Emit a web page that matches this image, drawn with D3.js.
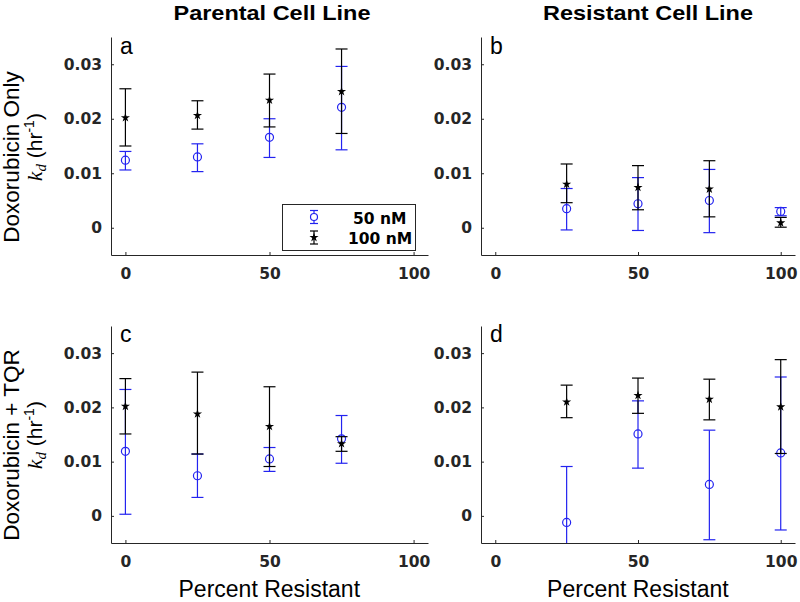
<!DOCTYPE html>
<html><head><meta charset="utf-8">
<script src="https://cdn.jsdelivr.net/npm/d3@7"></script>
<style>body{margin:0;background:#fff}svg{display:block}</style>
</head><body><svg id="chart" width="800" height="602"></svg>
<script>
// ---- data ----
const xTicks = [0, 50, 100];
const xTickLabels = ["0", "50", "100"];
const yTicks = [0, 0.01, 0.02, 0.03];
const yTickLabels = ["0", "0.01", "0.02", "0.03"];
const colTitles = ["Parental Cell Line", "Resistant Cell Line"];
const rowLabels = ["Doxorubicin Only", "Doxorubicin + TQR"];
const panelLetters = ["a", "b", "c", "d"];
const seriesNames = ["50 nM", "100 nM"];
const xLabel = "Percent Resistant";

// panel a (parental, doxorubicin only)
const xA = [0, 25, 50, 75];
const a50 = [0.0124, 0.0130, 0.0166, 0.0221];
const a50lo = [0.0106, 0.0103, 0.0129, 0.0143];
const a50hi = [0.0140, 0.0154, 0.0200, 0.0296];
const a100 = [0.0202, 0.0206, 0.0234, 0.0250];
const a100lo = [0.0150, 0.0181, 0.0185, 0.0173];
const a100hi = [0.0255, 0.0233, 0.0282, 0.0328];
// panel b (resistant, doxorubicin only)
const xB = [25, 50, 75, 100];
const b50 = [0.0035, 0.0044, 0.0050, 0.0030];
const b50lo = [-0.0004, -0.0005, -0.0009, 0.0022];
const b50hi = [0.0072, 0.0092, 0.0107, 0.0037];
const b100 = [0.0080, 0.0074, 0.0071, 0.0009];
const b100lo = [0.0046, 0.0033, 0.0020, 0.0001];
const b100hi = [0.0117, 0.0114, 0.0123, 0.0019];
// panel c (parental, doxorubicin + TQR)
const xC = [0, 25, 50, 75];
const c50 = [0.0119, 0.0074, 0.0105, 0.0142];
const c50lo = [0.0003, 0.0034, 0.0082, 0.0097];
const c50hi = [0.0233, 0.0114, 0.0126, 0.0185];
const c100 = [0.0202, 0.0188, 0.0165, 0.0133];
const c100lo = [0.0151, 0.0114, 0.0091, 0.0119];
const c100hi = [0.0253, 0.0265, 0.0238, 0.0146];
// panel d (resistant, doxorubicin + TQR)
const xD = [25, 50, 75, 100];
const d50 = [-0.0012, 0.0151, 0.0058, 0.0116];
const d50lo = [-0.0115, 0.0088, -0.0044, -0.0026];
const d50hi = [0.0091, 0.0212, 0.0158, 0.0256];
const d100 = [0.0210, 0.0222, 0.0215, 0.0201];
const d100lo = [0.0181, 0.0189, 0.0177, 0.0115];
const d100hi = [0.0241, 0.0254, 0.0252, 0.0288];

// ---- layout ----
const AX = "#262626", BLUE = "#2323f0", BLACK = "#000";
const svg = d3.select("#chart");
const tickFont = "DejaVu Sans, Verdana, sans-serif";
const labelFont = "Liberation Sans, Arial, sans-serif";

const panels = [
  {x: xA, m50: a50, l50: a50lo, h50: a50hi, m100: a100, l100: a100lo, h100: a100hi, xr: [111, 428], yr: [255, 37], letter: 0},
  {x: xB, m50: b50, l50: b50lo, h50: b50hi, m100: b100, l100: b100lo, h100: b100hi, xr: [481, 795], yr: [255, 37], letter: 1},
  {x: xC, m50: c50, l50: c50lo, h50: c50hi, m100: c100, l100: c100lo, h100: c100hi, xr: [111, 428], yr: [543, 326], letter: 2},
  {x: xD, m50: d50, l50: d50lo, h50: d50hi, m100: d100, l100: d100lo, h100: d100hi, xr: [481, 795], yr: [543, 326], letter: 3}
];

const starPath = d3.symbol().type(d3.symbolStar).size(26)();

panels.forEach((p, pi) => {
  const x = d3.scaleLinear().domain([-5, 105]).range(p.xr);
  const y = d3.scaleLinear().domain([-0.005, 0.035]).range(p.yr);
  const g = svg.append("g");
  const clipId = "clip" + pi;
  svg.append("clipPath").attr("id", clipId).append("rect")
    .attr("x", p.xr[0]).attr("y", p.yr[1]).attr("width", p.xr[1] - p.xr[0]).attr("height", p.yr[0] - p.yr[1]);

  // axes
  const yAxis = d3.axisLeft(y).tickValues(yTicks).tickFormat((d, i) => yTickLabels[i])
    .tickSizeInner(-3).tickSizeOuter(0).tickPadding(9);
  const xAxis = d3.axisBottom(x).tickValues(xTicks).tickFormat((d, i) => xTickLabels[i])
    .tickSizeInner(-3).tickSizeOuter(0).tickPadding(12);
  const ya = g.append("g").attr("transform", `translate(${p.xr[0]},0)`).call(yAxis);
  const xa = g.append("g").attr("transform", `translate(0,${p.yr[0]})`).call(xAxis);
  [ya, xa].forEach(a => {
    a.selectAll("path,line").attr("stroke", AX);
    a.selectAll("text").attr("fill", AX).style("font-family", tickFont)
      .style("font-weight", "bold").style("font-size", "15.5px");
  });
  xa.selectAll("text").attr("dy", "0.75em");

  const plot = g.append("g").attr("clip-path", `url(#${clipId})`);
  const series = [
    {m: p.m50, lo: p.l50, hi: p.h50, color: BLUE, marker: "o"},
    {m: p.m100, lo: p.l100, hi: p.h100, color: BLACK, marker: "*"}
  ];
  series.forEach(s => {
    const data = p.x.map((xv, i) => ({x: xv, m: s.m[i], lo: s.lo[i], hi: s.hi[i]}));
    const sg = plot.append("g").attr("stroke", s.color).attr("fill", "none").attr("stroke-width", 1.2);
    const e = sg.selectAll("g").data(data).join("g");
    e.append("line").attr("x1", d => x(d.x)).attr("x2", d => x(d.x))
      .attr("y1", d => y(d.lo)).attr("y2", d => y(d.hi));
    e.append("line").attr("x1", d => x(d.x) - 6).attr("x2", d => x(d.x) + 6)
      .attr("y1", d => y(d.lo)).attr("y2", d => y(d.lo));
    e.append("line").attr("x1", d => x(d.x) - 6).attr("x2", d => x(d.x) + 6)
      .attr("y1", d => y(d.hi)).attr("y2", d => y(d.hi));
    if (s.marker === "o") {
      e.append("circle").attr("cx", d => x(d.x)).attr("cy", d => y(d.m)).attr("r", 4)
        .attr("fill", "none");
    } else {
      e.append("path").attr("d", starPath).attr("transform", d => `translate(${x(d.x)},${y(d.m)})`)
        .attr("fill", s.color).attr("stroke", "none");
    }
  });

  // panel letter
  svg.append("text").attr("x", p.xr[0] + 9).attr("y", p.yr[1] + (pi < 2 ? 17 : 16))
    .text(panelLetters[p.letter]).style("font-family", labelFont).style("font-size", "23px").attr("fill", "#000");

  if (pi % 2 === 0) {
    const row = pi / 2;
    const cy = row === 0 ? 157 : 445;
    svg.append("text").attr("transform", `translate(19,${cy}) rotate(-90)`).attr("text-anchor", "middle")
      .style("font-family", labelFont).style("font-size", "22.5px").attr("fill", "#000").text(rowLabels[row]);
    const t = svg.append("text").attr("transform", `translate(42,${cy - 10}) rotate(-90)`).attr("text-anchor", "middle")
      .style("font-family", labelFont).style("font-size", "21px").attr("fill", "#000");
    t.append("tspan").style("font-family", "Liberation Serif, serif").style("font-style", "italic").text("k");
    t.append("tspan").style("font-family", "Liberation Serif, serif").style("font-style", "italic")
      .style("font-size", "15px").attr("dy", 4).text("d");
    t.append("tspan").attr("dy", -4).text(" (hr");
    t.append("tspan").style("font-size", "14px").attr("dy", -8).text("-1");
    t.append("tspan").attr("dy", 8).text(")");
  }
  if (pi >= 2) {
    svg.append("text").attr("x", (p.xr[0] + x(100)) / 2 + 7).attr("y", 597).attr("text-anchor", "middle")
      .style("font-family", labelFont).style("font-size", "23px").attr("fill", "#000").text(xLabel);
  }
});

// column titles
[[272, 197], [648, 210]].forEach((c, i) => {
  svg.append("text").attr("x", c[0]).attr("y", 20).attr("text-anchor", "middle")
    .attr("textLength", c[1]).attr("lengthAdjust", "spacingAndGlyphs")
    .style("font-family", labelFont).style("font-weight", "bold").style("font-size", "21px")
    .attr("fill", "#000").text(colTitles[i]);
});

// legend in panel a
const lg = svg.append("g");
lg.append("rect").attr("x", 282.5).attr("y", 204.5).attr("width", 133).attr("height", 46)
  .attr("fill", "#fff").attr("stroke", AX).attr("stroke-width", 1);
const legendRows = [{name: seriesNames[0], color: BLUE, marker: "o", cy: 217, tx: 353, ty: 224},
                    {name: seriesNames[1], color: BLACK, marker: "*", cy: 237.5, tx: 348, ty: 244}];
legendRows.forEach(r => {
  const gg = lg.append("g").attr("stroke", r.color).attr("stroke-width", 1.2);
  gg.append("line").attr("x1", 314).attr("x2", 314).attr("y1", r.cy - 6.5).attr("y2", r.cy + 6.5);
  gg.append("line").attr("x1", 310).attr("x2", 318).attr("y1", r.cy - 6.5).attr("y2", r.cy - 6.5);
  gg.append("line").attr("x1", 310).attr("x2", 318).attr("y1", r.cy + 6.5).attr("y2", r.cy + 6.5);
  if (r.marker === "o") gg.append("circle").attr("cx", 314).attr("cy", r.cy).attr("r", 3.5).attr("fill", "#fff");
  else gg.append("path").attr("d", starPath).attr("transform", `translate(314,${r.cy})`).attr("fill", r.color).attr("stroke", "none");
  lg.append("text").attr("x", r.tx).attr("y", r.ty).text(r.name)
    .style("font-family", tickFont).style("font-weight", "bold").style("font-size", "15.5px").attr("fill", "#000");
});
</script></body></html>
